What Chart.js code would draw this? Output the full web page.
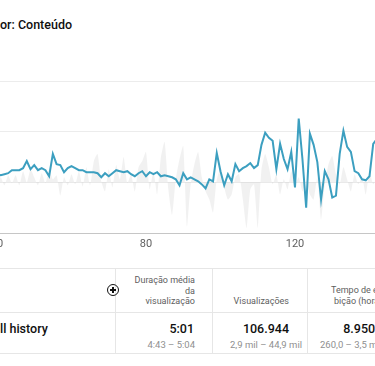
<!DOCTYPE html>
<html><head><meta charset="utf-8">
<script src="https://cdn.jsdelivr.net/npm/chart.js@4.4.0/dist/chart.umd.min.js"></script>
<style>
html,body{margin:0;padding:0;width:375px;height:366px;overflow:hidden;background:#fff;font-family:Roboto,"Noto Sans",sans-serif;}
body{position:relative;}
.abs{position:absolute;white-space:nowrap;}
#title{left:0;top:17px;font-size:12.5px;font-weight:500;color:#0f0f0f;}
#chartBox{position:absolute;left:-20px;top:76px;width:420px;height:182px;}
.hline{position:absolute;left:0;width:375px;height:1px;background:#e6e6e6;}
.vline{position:absolute;top:268px;width:1px;height:86px;background:#e6e6e6;}
.hdr{font-size:9px;line-height:10.5px;color:#606060;text-align:right;}
.val{font-size:12.5px;font-weight:500;color:#0f0f0f;text-align:right;line-height:15px;}
.rng{font-size:9.5px;color:#8f8f8f;text-align:right;line-height:12px;}
#plus{position:absolute;left:107px;top:284px;width:10px;height:10px;border:1.5px solid #111;border-radius:50%;}
#plus .h{position:absolute;left:2px;top:4.25px;width:6px;height:1.5px;background:#111;}
#plus .v{position:absolute;left:4.25px;top:2px;width:1.5px;height:6px;background:#111;}
</style></head><body>
<div id="title" class="abs">or: Conteúdo</div>
<div id="chartBox"><canvas id="c"></canvas></div>

<div class="hline" style="top:268px"></div>
<div class="hline" style="top:312px"></div>
<div class="hline" style="top:353px"></div>
<div class="vline" style="left:115px"></div>
<div class="vline" style="left:212px"></div>
<div class="vline" style="left:307px"></div>
<div id="plus"><div class="h"></div><div class="v"></div></div>

<div class="abs hdr" style="right:180px;top:275px">Duração média<br>da<br>visualização</div>
<div class="abs hdr" style="right:86px;top:296px">Visualizações</div>
<div class="abs hdr" style="right:-12px;top:285px">Tempo de exi-<br>bição (horas)</div>

<div class="abs val" style="left:0;top:321px;text-align:left">ll history</div>
<div class="abs val" style="right:181px;top:321px">5:01</div>
<div class="abs val" style="right:86px;top:321px">106.944</div>
<div class="abs val" style="right:-10px;top:321px">8.950,0</div>
<div class="abs rng" style="right:180px;top:339px">4:43 – 5:04</div>
<div class="abs rng" style="right:73px;top:339px">2,9 mil – 44,9 mil</div>
<div class="abs rng" style="left:320px;top:339px;text-align:left">260,0 – 3,5 mil</div>

<script>
const startDay = 40;
const xTicks = [40, 80, 120];
const contentViews = [1160,1140,1160,1180,1240,1240,1240,1280,1420,1260,1340,1240,1280,1240,1120,1560,1360,1340,1200,1280,
1320,1280,1240,1240,1200,1200,1200,1180,1100,1180,1120,1180,1240,1220,1200,1220,1160,1120,1180,1220,
1120,1200,1160,1200,1120,1140,1120,1100,1060,940,1180,1060,1100,1060,1020,960,880,1060,1020,1580,
1220,940,1160,1020,1360,1220,1280,1320,1380,1280,1340,1740,1980,1880,1820,1260,1760,1460,1260,1600,
900,2260,1460,500,1960,1740,1400,660,1220,1060,700,740,1560,2020,1700,1600,1220,1180,1060,1040,
1120,1760,1860];
const typicalViews = [1020,1100,940,1140,980,1140,940,1220,1000,1260,1100,940,1180,980,1260,1060,1140,740,1100,940,
1160,960,1220,920,1300,940,1420,1560,1020,820,1260,900,1340,1060,1500,980,1160,820,1300,1420,
1600,860,1220,760,1500,1800,860,360,1060,1460,1720,120,960,1360,1600,1100,820,660,400,1060,
1260,900,660,760,1100,1160,660,100,860,960,100,1260,1560,1300,960,1160,760,1060,860,1220,
960,1100,820,1020,760,660,1100,260,960,1360,1520,1160,960,1300,1060,820,1160,960,1100,760,
1220,960,1100];
const baselineValue = 1000;
const days = contentViews.map((_, i) => startDay + i);

new Chart(document.getElementById('c'), {
  type: 'line',
  data: {
    datasets: [
      {
        data: days.map((d, i) => ({x: d, y: contentViews[i]})),
        borderColor: '#3c9fc0',
        borderWidth: 2,
        pointRadius: 0,
        fill: false,
        tension: 0
      },
      {
        data: days.map((d, i) => ({x: d, y: typicalViews[i]})),
        borderWidth: 0,
        borderColor: 'rgba(0,0,0,0)',
        backgroundColor: 'rgba(0,0,0,0.055)',
        pointRadius: 0,
        fill: {value: baselineValue},
        tension: 0.2
      }
    ]
  },
  options: {
    responsive: true,
    maintainAspectRatio: false,
    animation: false,
    devicePixelRatio: 1,
    layout: {padding: {top: 5, left: 0, right: 0, bottom: 0}},
    plugins: {legend: {display: false}, tooltip: {enabled: false}},
    scales: {
      x: {
        type: 'linear',
        min: 35.44,
        max: 148.19,
        afterBuildTicks: s => { s.ticks = xTicks.map(v => ({value: v})); },
        afterFit: s => { s.height = 25; },
        grid: {display: false, drawTicks: false},
        border: {display: true, color: '#c6c6c6', width: 1},
        ticks: {padding: 5, color: '#606060', font: {family: 'Roboto', size: 11}, maxRotation: 0}
      },
      y: {
        min: 0,
        max: 3000,
        afterFit: s => { s.width = 0; },
        ticks: {display: false, stepSize: 1000},
        border: {display: false},
        grid: {drawTicks: false, color: c => c.tick.value === 0 ? 'rgba(0,0,0,0)' : '#ececec'}
      }
    }
  }
});
</script>
</body></html>
